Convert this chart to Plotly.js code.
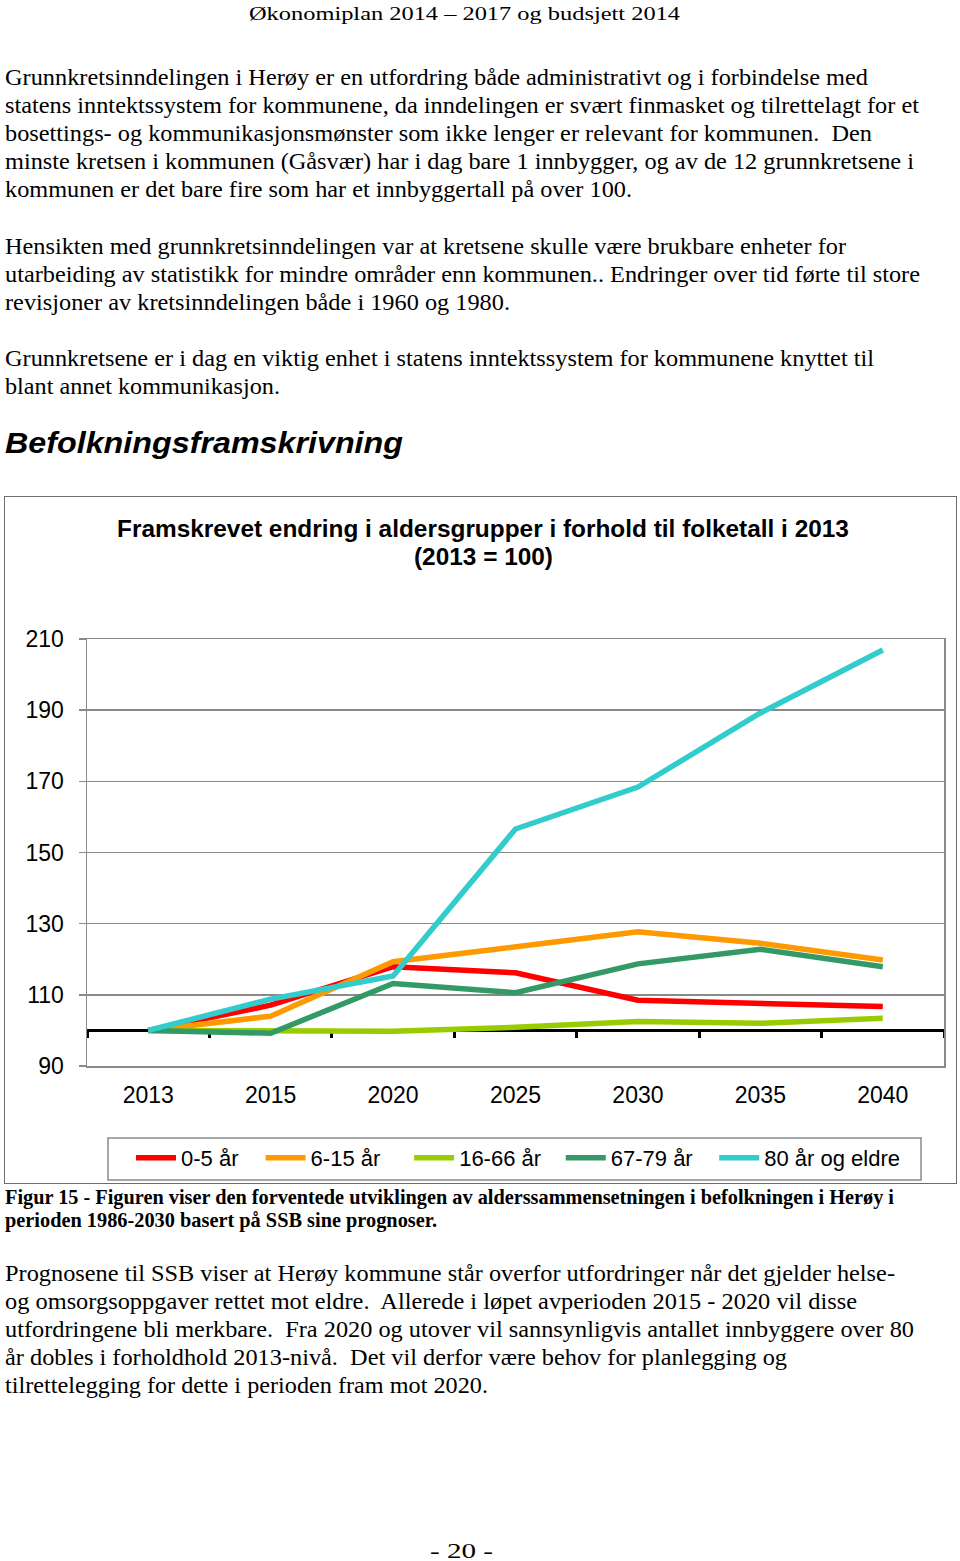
<!DOCTYPE html>
<html><head><meta charset="utf-8">
<script src="https://cdn.plot.ly/plotly-3.0.1.min.js"></script>
<style>
html,body{margin:0;padding:0;background:#fff;}
body{width:960px;height:1561px;position:relative;overflow:hidden;}
.t{position:absolute;white-space:pre;transform-origin:0 0;color:#000;}
#box{position:absolute;left:4px;top:496px;width:953px;height:688px;border:1px solid #6e6e6e;box-sizing:border-box;}
#chart{position:absolute;left:5px;top:497px;width:951px;height:686px;}
</style></head><body>
<div id="box"></div>
<div id="chart"></div>
<script>
// ---- chart data ----
const years = ["2013","2015","2020","2025","2030","2035","2040"];
const seriesNames = ["0-5 år","6-15 år","16-66 år","67-79 år","80 år og eldre"];
const age0_5   = [100, 107.1, 117.9, 116.2, 108.5, 107.6, 106.7];
const age6_15  = [100, 104.0, 119.3, 123.5, 127.7, 124.5, 119.8];
const age16_66 = [100, 99.9, 99.8, 100.9, 102.5, 102.0, 103.4];
const age67_79 = [100, 99.2, 113.2, 110.6, 118.7, 122.8, 117.9];
const age80    = [100, 108.8, 115.3, 156.6, 168.4, 189.2, 206.9];
const yTicks = [90,110,130,150,170,190,210];
const colors = ["#FF0000","#FF9900","#99CC00","#339966","#33CCCC"];
const titleLine1 = 'Framskrevet endring i aldersgrupper i forhold til folketall i 2013';
const titleLine2 = '(2013 = 100)';

// spacing after each legend entry (layout only)
const legendPad = ['\u2002\u00a0','\u2002\u2002\u200A','\u2002\u2006','\u2002\u2005',''];

const vals = [age0_5, age6_15, age16_66, age67_79, age80];
const traces = vals.map((v,i)=>({
  type:'scatter', mode:'lines', x:years, y:v,
  name: seriesNames[i] + legendPad[i],
  line:{color:colors[i], width:5.5}, hoverinfo:'skip'
}));
// helper trace for the baseline axis at 100
traces.unshift({type:'scatter', mode:'lines', x:years, y:years.map(()=>null), xaxis:'x2', yaxis:'y', showlegend:false, hoverinfo:'skip'});

const W=951, H=686;
const ml=82, mr=12, mt=142, mb=117;
const pw=W-ml-mr, ph=H-mt-mb;
const baseFrac=(100-90)/(210-90);
const SANSF='"Liberation Sans", Arial, sans-serif';

const layout = {
  width:W, height:H,
  margin:{l:ml, r:mr, t:mt, b:mb, pad:0},
  paper_bgcolor:'rgba(0,0,0,0)', plot_bgcolor:'#fff',
  font:{family:SANSF, color:'#000'},
  title:{text:'<b>'+titleLine1+'</b>',
    font:{size:24.4, family:SANSF, color:'#000'},
    x:0.5026, xref:'container', xanchor:'center', y:1-31/H, yref:'container', yanchor:'middle'},
  annotations:[{text:'<b>'+titleLine2+'</b>', showarrow:false, xref:'paper', yref:'paper',
    x:(478-ml)/pw, y:1+(mt-59)/ph, xanchor:'center', yanchor:'middle', font:{size:24.4, family:SANSF, color:'#000'}}],
  xaxis:{type:'category', range:[-0.5,6.5], showgrid:false, showline:true, mirror:true,
    linecolor:'#8a8a8a', linewidth:1.5, ticks:'', tickfont:{size:23}, ticklabelstandoff:8, zeroline:false, fixedrange:true},
  xaxis2:{type:'category', overlaying:'x', anchor:'free', position:baseFrac, side:'bottom',
    range:[-0.5,6.5], showgrid:false, showline:true, linecolor:'#000', linewidth:3,
    ticks:'outside', tickson:'boundaries', ticklen:6, tickwidth:3, tickcolor:'#000',
    showticklabels:false, zeroline:false, fixedrange:true, layer:'below traces'},
  yaxis:{range:[90,210], tickvals:yTicks, ticktext:yTicks.map(String), showgrid:true, gridcolor:'#8a8a8a', gridwidth:1.5,
    showline:true, mirror:true, linecolor:'#8a8a8a', linewidth:1.5, ticks:'outside', ticklen:7, tickcolor:'#8a8a8a', tickwidth:1.5,
    tickfont:{size:23}, ticklabelstandoff:10, zeroline:false, fixedrange:true},
  showlegend:true,
  legend:{orientation:'h', x:126/W, xref:'container', xanchor:'left', y:1-661/H, yref:'container', yanchor:'middle',
    font:{size:22}, bgcolor:'rgba(0,0,0,0)', borderwidth:0, traceorder:'normal', itemwidth:40},
  shapes:[{type:'rect', xref:'paper', yref:'paper', x0:(103-ml)/pw, x1:(916-ml)/pw,
    y0:-(683-(mt+ph))/ph, y1:-(641-(mt+ph))/ph, line:{color:'#8a8a8a', width:1.5}, fillcolor:'rgba(0,0,0,0)', layer:'below'}]
};
Plotly.newPlot('chart', traces, layout, {displayModeBar:false, staticPlot:true});

// ---- page text ----
const SERIF='"Liberation Serif","Times New Roman",serif';
const SANS='"Liberation Sans",Arial,sans-serif';
function place(text, x, base, fs, right, fam, weight, style){
  const el=document.createElement('div');
  el.className='t';
  el.textContent=text;
  el.style.fontFamily=fam; el.style.fontSize=fs+'px'; el.style.lineHeight=fs+'px';
  el.style.fontWeight=weight||'normal'; el.style.fontStyle=style||'normal';
  const a = fam===SERIF ? 0.8375 : 0.8465;
  el.style.left=x+'px'; el.style.top=(base-a*fs)+'px';
  document.body.appendChild(el);
  const w=el.getBoundingClientRect().width;
  if(right && w>0){ el.style.transform='scaleX('+((right-x)/w)+')'; }
}
place('Økonomiplan 2014 – 2017 og budsjett 2014', 249, 20, 19, 680, SERIF);
const p1=[
 ['Grunnkretsinndelingen i Herøy er en utfordring både administrativt og i forbindelse med',868],
 ['statens inntektssystem for kommunene, da inndelingen er svært finmasket og tilrettelagt for et',919],
 ['bosettings- og kommunikasjonsmønster som ikke lenger er relevant for kommunen.  Den',872],
 ['minste kretsen i kommunen (Gåsvær) har i dag bare 1 innbygger, og av de 12 grunnkretsene i',914],
 ['kommunen er det bare fire som har et innbyggertall på over 100.',632]];
p1.forEach((l,i)=>place(l[0],5,85+28*i,23,l[1],SERIF));
const p2=[
 ['Hensikten med grunnkretsinndelingen var at kretsene skulle være brukbare enheter for',846],
 ['utarbeiding av statistikk for mindre områder enn kommunen.. Endringer over tid førte til store',920],
 ['revisjoner av kretsinndelingen både i 1960 og 1980.',510]];
p2.forEach((l,i)=>place(l[0],5,254+28*i,23,l[1],SERIF));
const p3=[
 ['Grunnkretsene er i dag en viktig enhet i statens inntektssystem for kommunene knyttet til',874],
 ['blant annet kommunikasjon.',280]];
p3.forEach((l,i)=>place(l[0],5,366+28*i,23,l[1],SERIF));
place('Befolkningsframskrivning',5,453,30,403,SANS,'bold','italic');
place('Figur 15 - Figuren viser den forventede utviklingen av alderssammensetningen i befolkningen i Herøy i',5,1205,21,894,SERIF,'bold');
place('perioden 1986-2030 basert på SSB sine prognoser.',5,1228,21,437,SERIF,'bold');
const p4=[
 ['Prognosene til SSB viser at Herøy kommune står overfor utfordringer når det gjelder helse-',895],
 ['og omsorgsoppgaver rettet mot eldre.  Allerede i løpet avperioden 2015 - 2020 vil disse',857],
 ['utfordringene bli merkbare.  Fra 2020 og utover vil sannsynligvis antallet innbyggere over 80',914],
 ['år dobles i forholdhold 2013-nivå.  Det vil derfor være behov for planlegging og',787],
 ['tilrettelegging for dette i perioden fram mot 2020.',488]];
p4.forEach((l,i)=>place(l[0],5,1281+28*i,23,l[1],SERIF));
place('- 20 -',430,1559,21,493,SERIF);
</script>
</body></html>
